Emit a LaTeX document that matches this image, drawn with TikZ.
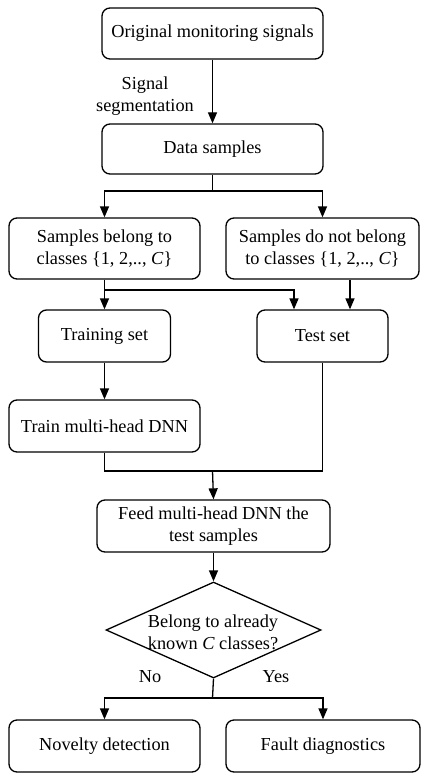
\documentclass[tikz,border=0pt]{standalone}
\usepackage{fontspec}
\setmainfont{Liberation Serif}
\usetikzlibrary{arrows.meta,shapes.geometric}
\begin{document}
\begin{tikzpicture}[x=1pt,y=-1pt,
  every node/.style={font=\fontsize{18.3}{22}\selectfont},
  box/.style={draw,line width=1.3pt,rounded corners=8pt,align=center,inner sep=0pt},
  lbl/.style={align=center,inner sep=0pt},
  conn/.style={line width=1.3pt},
  arr/.style={conn,-{Triangle[length=11pt,width=9pt]}}]
\useasboundingbox (0,0) rectangle (434,778);
\node[box,minimum width=221pt,minimum height=51pt] (orig) at (212.5,33.5) {Original monitoring signals};
\node[box,minimum width=221pt,minimum height=50pt] (data) at (212.5,149) {Data samples};
\node[box,minimum width=191pt,minimum height=61pt] (belong) at (104.5,248.5) {Samples belong to\\classes \{1, 2,.., \textit{C}\}};
\node[box,minimum width=193pt,minimum height=61pt] (notbel) at (322.5,248.5) {Samples do not belong\\to classes \{1, 2,.., \textit{C}\}};
\node[box,minimum width=132pt,minimum height=52pt] (train) at (104.5,336) {Training set};
\node[box,minimum width=131pt,minimum height=52pt] (test) at (322.5,336) {Test set};
\node[box,minimum width=191pt,minimum height=52pt] (tdnn) at (104.5,426) {Train multi-head DNN};
\node[box,minimum width=233pt,minimum height=52pt] (feed) at (213.5,526) {Feed multi-head DNN the\\test samples};
\node[diamond,draw,line width=1.3pt,minimum width=215pt,minimum height=96pt,inner sep=0pt] (dec) at (213.5,630) {};
\node[lbl] (dectext) at (213,632) {Belong to already\\known \textit{C} classes?};
\node[box,minimum width=191pt,minimum height=52pt] (nov) at (104.5,746) {Novelty detection};
\node[box,minimum width=194pt,minimum height=52pt] (fault) at (323,746) {Fault diagnostics};
\node[lbl] (seg) at (145,96) {Signal\\segmentation};
\node[lbl] (no) at (150,677) {No};
\node[lbl] (yes) at (276,677) {Yes};
\coordinate (s1) at (212.5,191);
\coordinate (s2) at (104.5,290);
\coordinate (tl) at (294,0);
\coordinate (tr) at (350,0);
\coordinate (j) at (212.5,471);
\coordinate (s3) at (212.5,698);
\draw[arr] (orig) -- (data);
\draw[conn] (data.south) -- (s1);
\draw[arr] (s1) -| (belong.north);
\draw[arr] (s1) -| (notbel.north);
\draw[arr] (belong) -- (train);
\draw[arr] (s2) -| (test.north -| tl);
\draw[arr] (notbel.south -| tr) -- (test.north -| tr);
\draw[arr] (train) -- (tdnn);
\draw[conn] (tdnn.south) |- (j) -| (test.south);
\draw[arr] (j) -- (feed.north);
\draw[arr] (feed) -- (dec.north);
\draw[conn] (dec.south) -- (s3);
\draw[arr] (s3) -| (nov.north);
\draw[arr] (s3) -| (fault.north);
\end{tikzpicture}
\end{document}
